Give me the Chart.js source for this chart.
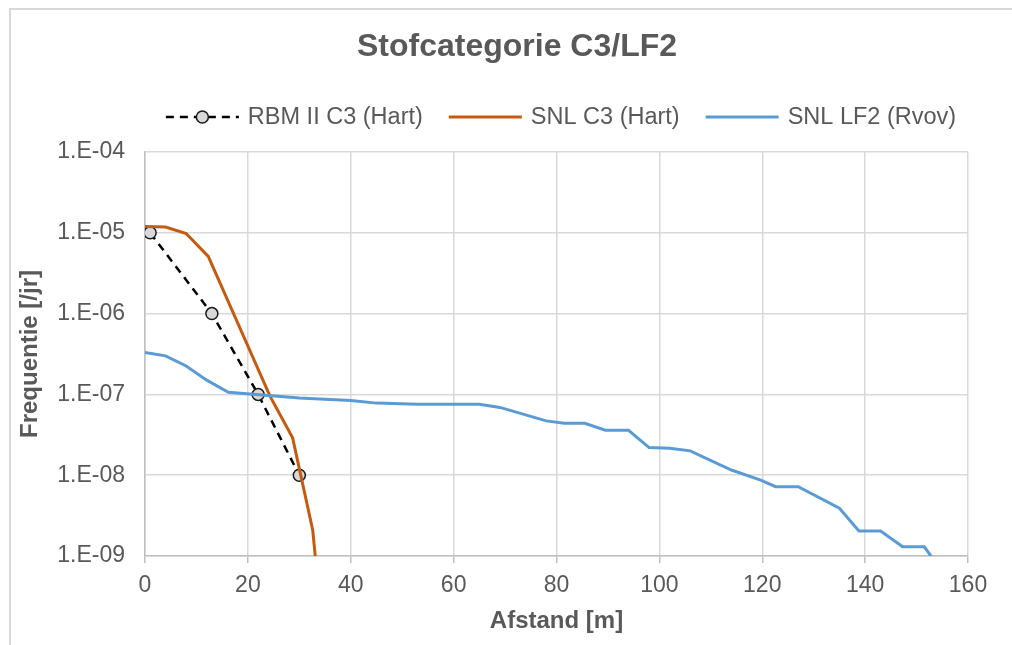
<!DOCTYPE html>
<html>
<head>
<meta charset="utf-8">
<script src="https://cdn.jsdelivr.net/npm/chart.js@4"></script>
<style>
  html, body { margin: 0; padding: 0; background: #fff; overflow: hidden; }
  #wrap { position: relative; width: 1012px; height: 645px; }
  #frame { position: absolute; left: 9px; top: 8px; width: 1100px; height: 800px; border: 2px solid #d9d9d9; }
  canvas { position: absolute; left: 0; top: 0; }
</style>
</head>
<body>
<div id="wrap">
  <div id="frame"></div>
  <canvas id="chart" width="1012" height="645"></canvas>
</div>
<script>
Chart.defaults.animation = false;

// --- data ---
const rbmX = [1, 13, 22, 30];
const rbmY = [1e-5, 1e-6, 1e-7, 1e-8];

const c3X = [0, 4, 8, 12.3, 24.3, 28.7, 32.6, 33.1];
const c3Y = [1.2e-5, 1.18e-5, 9.8e-6, 5.1e-6, 9.5e-8, 2.9e-8, 2.1e-9, 1.0e-9];

const lf2X = [0, 4, 8, 12, 16.2, 30, 40, 45, 53, 65, 69, 78, 81.5, 85.5, 89.5, 94, 98, 102, 106, 114, 119.7, 122.6, 127, 135, 138.8, 143, 147.3, 151.5, 152.8];
const lf2Y = [3.3e-7, 3.0e-7, 2.25e-7, 1.5e-7, 1.06e-7, 9.0e-8, 8.4e-8, 7.8e-8, 7.55e-8, 7.55e-8, 6.9e-8, 4.7e-8, 4.4e-8, 4.4e-8, 3.6e-8, 3.6e-8, 2.2e-8, 2.15e-8, 2.0e-8, 1.16e-8, 8.7e-9, 7.2e-9, 7.2e-9, 3.9e-9, 2.04e-9, 2.04e-9, 1.3e-9, 1.3e-9, 1.0e-9];

const seriesLabels = ['RBM II C3 (Hart)', 'SNL C3 (Hart)', 'SNL LF2 (Rvov)'];
const yTickValues = [1e-9, 1e-8, 1e-7, 1e-6, 1e-5, 1e-4];
const yTickLabels = ['1.E-09', '1.E-08', '1.E-07', '1.E-06', '1.E-05', '1.E-04'];
const chartTitle = 'Stofcategorie C3/LF2';

const TXT = '#595959';
const FONT = 'Liberation Sans, Arial, sans-serif';

const pts = (xs, ys) => xs.map((x, i) => ({ x: x, y: ys[i] }));

// Title centred on the whole picture + Excel-style legend (line sample with marker)
const headerPlugin = {
  id: 'xlHeader',
  afterDraw(chart) {
    const ctx = chart.ctx;
    ctx.save();
    ctx.fillStyle = TXT;
    ctx.textAlign = 'center';
    ctx.textBaseline = 'middle';
    ctx.font = 'bold 32px ' + FONT;
    ctx.fillText(chartTitle, 517, 47);

    const lineLen = 73, gapText = 9, gapItem = 26, y = 117;
    ctx.font = '23.5px ' + FONT;
    const items = chart.data.datasets.map(ds => ({ ds, w: lineLen + gapText + ctx.measureText(ds.label).width }));
    const total = items.reduce((s, it) => s + it.w, 0) + gapItem * (items.length - 1);
    let x = 561 - total / 2;
    items.forEach(it => {
      const ds = it.ds;
      ctx.strokeStyle = ds.borderColor;
      ctx.lineWidth = ds.borderWidth;
      ctx.setLineDash(ds.borderDash || []);
      ctx.beginPath();
      ctx.moveTo(x, y);
      ctx.lineTo(x + lineLen, y);
      ctx.stroke();
      ctx.setLineDash([]);
      if (ds.pointRadius > 0) {
        ctx.beginPath();
        ctx.arc(x + lineLen / 2, y, ds.pointRadius, 0, Math.PI * 2);
        ctx.fillStyle = ds.pointBackgroundColor;
        ctx.fill();
        ctx.lineWidth = ds.pointBorderWidth;
        ctx.strokeStyle = ds.pointBorderColor;
        ctx.stroke();
      }
      ctx.fillStyle = TXT;
      ctx.textAlign = 'left';
      ctx.fillText(ds.label, x + lineLen + gapText, y + 1);
      x += it.w + gapItem;
    });
    ctx.restore();
  }
};

new Chart(document.getElementById('chart'), {
  type: 'scatter',
  data: {
    datasets: [
      {
        label: seriesLabels[0],
        data: pts(rbmX, rbmY),
        showLine: true,
        borderColor: '#000000',
        borderWidth: 2.5,
        borderDash: [8, 6],
        pointRadius: 6,
        pointBackgroundColor: '#d9d9d9',
        pointBorderColor: '#1a1a1a',
        pointBorderWidth: 1.5,
        order: 3
      },
      {
        label: seriesLabels[1],
        data: pts(c3X, c3Y),
        showLine: true,
        borderColor: '#c55a11',
        borderWidth: 3,
        pointRadius: 0,
        order: 2
      },
      {
        label: seriesLabels[2],
        data: pts(lf2X, lf2Y),
        showLine: true,
        borderColor: '#5b9bd5',
        borderWidth: 3,
        pointRadius: 0,
        order: 1
      }
    ]
  },
  options: {
    responsive: false,
    animation: false,
    events: [],
    layout: { padding: { left: 0, right: 44, top: 152, bottom: 0 } },
    plugins: {
      legend: { display: false },
      tooltip: { enabled: false },
      title: { display: false }
    },
    scales: {
      x: {
        type: 'linear',
        min: 0,
        max: 160,
        ticks: { stepSize: 20, color: TXT, padding: 9, font: { family: FONT, size: 23 } },
        grid: { color: '#d9d9d9', lineWidth: 1.5, tickColor: '#bfbfbf', tickLength: 7 },
        border: { color: '#bfbfbf', width: 1.5 },
        title: {
          display: true,
          text: 'Afstand [m]',
          color: TXT,
          font: { family: FONT, size: 24, weight: 'bold' },
          padding: { top: 10, bottom: 9 }
        },
        afterFit(scale) { scale.height = 89; }
      },
      y: {
        type: 'logarithmic',
        min: 1e-9,
        max: 1e-4,
        afterBuildTicks(scale) {
          scale.ticks = yTickValues.map(v => ({ value: v }));
        },
        ticks: {
          color: TXT,
          padding: 20,
          font: { family: FONT, size: 23 },
          callback: (v) => yTickLabels[yTickValues.indexOf(v)]
        },
        grid: { color: '#d9d9d9', lineWidth: 1.5, drawTicks: false },
        border: { color: '#bfbfbf', width: 1.5 },
        title: {
          display: true,
          text: 'Frequentie [/jr]',
          color: TXT,
          font: { family: FONT, size: 24, weight: 'bold' },
          padding: { top: 16, bottom: 0 }
        },
        afterFit(scale) { scale.width = 145; }
      }
    }
  },
  plugins: [headerPlugin]
});
</script>
</body>
</html>
